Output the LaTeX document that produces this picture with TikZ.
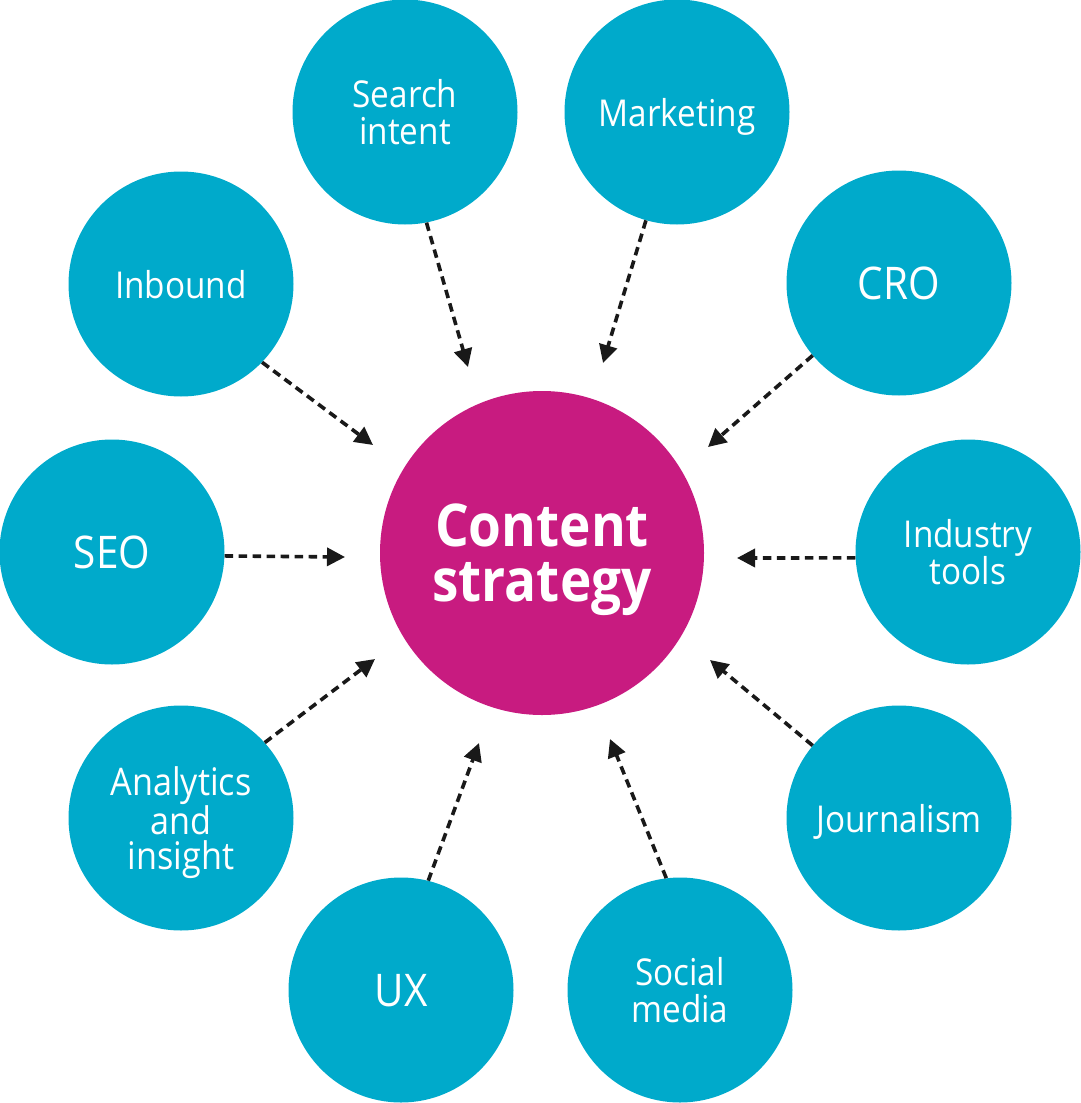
\documentclass[tikz,border=0pt]{standalone}
\usepackage{fontspec}
\setmainfont{Open Sans}[FakeStretch=0.9]
\usetikzlibrary{arrows.meta}
\definecolor{cyanfill}{HTML}{00AACB}
\definecolor{magfill}{HTML}{C81B80}
\tikzset{
  outer/.style={circle, fill=cyanfill, minimum size=225pt, inner sep=0pt, text=white, align=center,
    text depth=0pt, font=\fontsize{37}{37}\selectfont},
  multi/.style={text depth=-6pt},
  big/.style={font=\fontsize{45}{45}\selectfont},
  hub/.style={circle, fill=magfill, minimum size=324pt, inner sep=0pt, text=white, align=center,
    text depth=-6pt, font=\bfseries\fontsize{59}{55}\selectfont},
  flow/.style={line width=3.6pt, dash pattern=on 8.5pt off 5.5pt, black!90,
    -{Triangle[length=18pt,width=18pt]}},
}
\begin{document}
\begin{tikzpicture}[x=1pt,y=-1pt]
\useasboundingbox (0,0) rectangle (1080,1103);
\node[hub] (cs) at (542,553) {Content\\strategy};
\node[outer, multi] (si) at (405,112) {Search\\intent};
\node[outer] (mk) at (677,112) {Marketing};
\node[outer, big] (cro) at (899,283) {CRO};
\node[outer, multi] (it) at (968,552) {Industry\\tools};
\node[outer] (jo) at (899,818) {Journalism};
\node[outer, multi] (sm) at (680,990) {Social\\media};
\node[outer, big] (ux) at (401,990) {UX};
\node[outer, multi, font=\fontsize{38}{34.5}\selectfont] (an) at (181,818) {Analytics\\and\\insight};
\node[outer, big] (seo) at (112,552) {SEO};
\node[outer] (ib) at (181,284) {Inbound};
\coordinate (tsi) at (468,367);
\coordinate (tmk) at (603,363);
\coordinate (tib) at (373,445);
\coordinate (tseo) at (345,557);
\coordinate (tcro) at (708,447);
\coordinate (tit) at (737,558);
\coordinate (tan) at (375,659);
\coordinate (tux) at (479,743);
\coordinate (tjo) at (710,660);
\coordinate (tsm) at (610,739);
\draw[flow] (si.-79) -- (tsi);
\draw[flow] (mk.-106) -- (tmk);
\draw[flow] (ib.-44) -- (tib);
\draw[flow] (seo.-2.5) -- (tseo);
\draw[flow] (cro.-140) -- (tcro);
\draw[flow] (it.183) -- (tit);
\draw[flow] (an.42) -- (tan);
\draw[flow] (ux.76) -- (tux);
\draw[flow] (jo.140.5) -- (tjo);
\draw[flow] (sm.97.6) -- (tsm);
\end{tikzpicture}
\end{document}
